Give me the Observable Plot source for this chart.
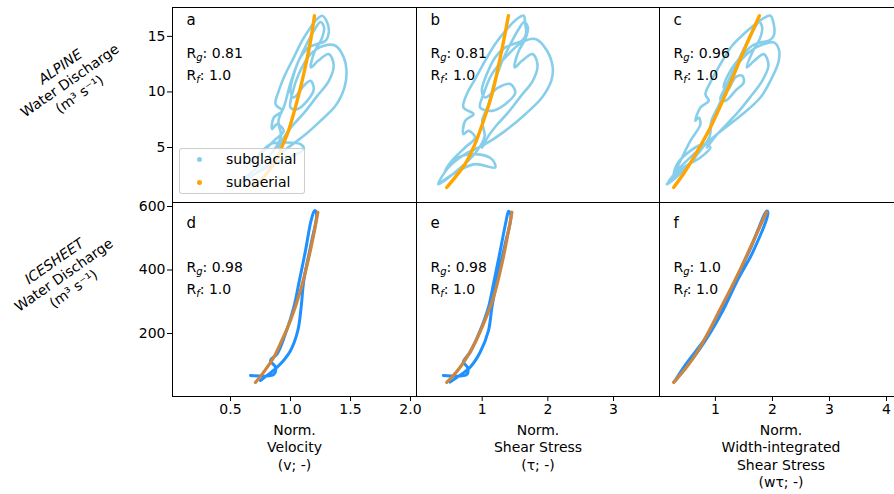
<!DOCTYPE html>
<html><head><meta charset="utf-8">
<script src="https://cdn.jsdelivr.net/npm/d3@7"></script>
<script src="https://cdn.jsdelivr.net/npm/@observablehq/plot@0.6"></script>
<style>
body{margin:0;background:#fff;}
#fig{position:relative;width:894px;height:494px;overflow:hidden;background:#fff;font-family:"DejaVu Sans",sans-serif;}
#fig svg{position:absolute;overflow:visible;}
#legend{position:absolute;box-sizing:border-box;border:1px solid rgba(200,200,200,0.9);border-radius:3px;background:rgba(255,255,255,0.8);font:14px "DejaVu Sans",sans-serif;color:#000;}
#legend .it{position:absolute;white-space:nowrap;line-height:16px;}
#legend .dot{position:absolute;width:5px;height:5px;border-radius:50%;}
</style></head><body><div id="fig"></div>
<script>
// ---------- data ----------
const panelLetters = ["a","b","c","d","e","f"];
const rgValues = ["0.81","0.81","0.96","0.98","0.98","1.0"];
const rfValues = ["1.0","1.0","1.0","1.0","1.0","1.0"];
const seriesNames = ["subglacial","subaerial"];
const rowLabels = ["ALPINE\nWater Discharge\n(m³ s⁻¹)", "ICESHEET\nWater Discharge\n(m³ s⁻¹)"];
const colLabels = ["Norm.\nVelocity\n(v; -)", "Norm.\nShear Stress\n(τ; -)", "Norm.\nWidth-integrated\nShear Stress\n(wτ; -)"];
const yTicksTop = [5, 10, 15];
const yTicksBottom = [200, 400, 600];
const xTicksCol = [[0.5, 1.0, 1.5, 2.0], [1, 2, 3], [1, 2, 3, 4]];

// ALPINE (top row)  [x, discharge]
const subglacialA = [[0.525,1.40],[0.75,2.90],[0.917,3.80],[1.111,4.85],[1.083,5.30],[0.944,5.45],[0.833,5.30],[0.667,3.50],[0.75,4.40],[0.861,5.60],[0.944,6.50],[0.889,7.10],[0.847,6.65],[0.861,7.70],[0.931,8.30],[0.875,8.90],[0.903,10.11],[0.958,11.61],[1.028,13.11],[1.097,14.61],[1.167,15.81],[1.222,16.56],[1.264,16.86],[1.306,16.26],[1.319,15.36],[1.292,14.61],[1.222,14.31],[1.153,14.01],[1.083,13.11],[1.028,11.61],[1.0,10.11],[1.028,9.50],[1.111,10.56],[1.167,11.01],[1.194,10.26],[1.139,9.20],[1.056,8.45],[1.0,8.60],[1.014,9.80],[1.069,11.61],[1.167,13.41],[1.278,14.16],[1.375,14.16],[1.444,13.11],[1.467,11.91],[1.45,10.41],[1.375,8.75],[1.25,7.40],[1.111,6.05],[0.944,4.70],[0.778,3.20],[0.611,2.00],[0.525,1.40],
  [0.70,3.0],[0.85,4.6],[0.92,6.0],[0.90,7.4],[0.95,8.8],[1.0,10.8],[1.06,12.6],[1.13,14.2],[1.20,15.6],[1.25,16.3],[1.28,15.8],[1.26,14.8],[1.20,13.6],[1.17,12.2],[1.23,12.8],[1.32,13.4],[1.36,12.4],[1.32,11.0],[1.22,9.6],[1.12,8.2],[1.02,7.0],[0.95,6.0],[0.90,5.0]];
const subaerialA = [[0.69,1.45],[0.75,2.0],[0.82,2.9],[0.88,3.9],[0.93,5.1],[0.98,6.4],[1.03,8.2],[1.07,9.8],[1.11,11.6],[1.15,13.6],[1.18,15.4],[1.20,16.85]];
const subglacialB = [[0.333,1.70],[0.638,2.90],[0.893,3.50],[1.198,3.20],[1.148,3.95],[0.893,4.40],[0.638,4.10],[0.435,2.90],[0.537,3.80],[0.740,5.00],[0.893,5.90],[0.791,6.50],[0.715,6.20],[0.740,7.40],[0.868,8.00],[0.715,8.60],[0.766,9.80],[0.893,11.16],[1.046,12.81],[1.198,14.31],[1.377,15.66],[1.529,16.56],[1.631,16.86],[1.656,16.11],[1.667,15.21],[1.606,14.61],[1.478,14.31],[1.351,14.01],[1.198,13.11],[1.071,11.61],[0.995,10.11],[1.046,9.50],[1.249,10.41],[1.427,10.71],[1.504,9.95],[1.351,8.90],[1.148,8.30],[0.969,8.60],[1.020,9.80],[1.148,11.61],[1.402,13.41],[1.606,14.46],[1.809,14.76],[1.987,13.71],[2.074,12.21],[2.053,11.01],[1.911,9.50],[1.656,8.00],[1.351,6.50],[1.046,5.30],[0.740,4.40],[0.486,3.20],[0.333,1.70],
  [0.634,3.0],[0.908,4.6],[1.037,6.0],[1.0,7.4],[1.092,8.8],[1.183,10.8],[1.293,12.6],[1.421,14.2],[1.55,15.6],[1.641,16.3],[1.696,15.8],[1.66,14.8],[1.55,13.6],[1.495,12.2],[1.605,12.8],[1.77,13.4],[1.843,12.4],[1.77,11.0],[1.586,9.6],[1.403,8.2],[1.22,7.0],[1.092,6.0],[1.0,5.0]];
const subaerialB = [[0.46,1.4],[0.60,2.4],[0.74,3.5],[0.89,5.3],[1.02,7.4],[1.15,9.8],[1.275,13.1],[1.34,15.0],[1.40,16.86]];
const subglacialC = [[0.152,1.70],[0.444,3.20],[0.737,4.10],[0.912,5.00],[0.795,5.30],[0.561,4.70],[0.327,3.50],[0.269,2.60],[0.386,3.80],[0.561,5.60],[0.737,7.10],[0.708,7.70],[0.649,7.40],[0.737,8.60],[0.883,9.20],[0.825,9.80],[0.912,10.86],[1.088,12.51],[1.292,14.16],[1.497,15.21],[1.702,16.11],[1.848,16.65],[1.965,16.86],[2.023,16.11],[2.023,15.06],[1.936,14.61],[1.789,14.46],[1.643,14.16],[1.439,13.11],[1.263,11.91],[1.146,10.41],[1.205,10.11],[1.351,11.31],[1.468,11.46],[1.497,10.86],[1.351,10.11],[1.175,9.20],[1.088,9.35],[1.175,10.41],[1.351,12.21],[1.585,13.56],[1.848,14.31],[2.023,14.46],[2.111,13.86],[2.111,12.81],[1.994,11.31],[1.789,9.50],[1.439,7.85],[1.029,6.20],[0.620,4.40],[0.327,2.90],[0.152,1.70],
  [0.45,3.0],[0.72,4.6],[0.90,6.0],[0.93,7.4],[1.06,8.8],[1.23,10.8],[1.38,12.6],[1.53,14.2],[1.67,15.6],[1.77,16.3],[1.82,15.8],[1.78,14.8],[1.65,13.6],[1.55,12.2],[1.68,12.8],[1.85,13.4],[1.93,12.4],[1.82,11.0],[1.62,9.6],[1.40,8.2],[1.18,7.0],[1.00,6.0],[0.85,5.0]];
const subaerialC = [[0.268,1.4],[0.45,2.7],[0.619,4.1],[0.912,6.8],[1.205,10.1],[1.497,13.7],[1.772,16.86]];

// ICESHEET (bottom row)
const subglacialD = [[0.667,68],[0.861,71],[0.875,94],[0.833,115],[0.889,136],[0.958,199],[1.028,283],[1.069,357],[1.125,461],[1.172,556],[1.2,587],[1.217,577],[1.172,483],[1.111,367],[1.089,283],[1.061,209],[1.0,146],[0.903,99],[0.806,68],[0.75,52]];
const subaerialD = [[0.708,46],[0.78,80],[0.861,125],[0.93,180],[1.0,241],[1.083,335],[1.153,440],[1.2,524],[1.228,582]];
const subglacialE = [[0.409,68],[0.766,71],[0.776,94],[0.715,110],[0.817,141],[0.969,209],[1.096,283],[1.173,357],[1.275,461],[1.366,556],[1.402,585],[1.438,572],[1.351,483],[1.224,367],[1.148,283],[1.096,209],[0.969,141],[0.817,94],[0.638,65],[0.511,47]];
const subaerialE = [[0.461,46],[0.62,82],[0.766,125],[0.90,175],[1.02,230],[1.173,314],[1.301,420],[1.402,524],[1.453,582]];
const subglacialF = [[0.30,52],[0.50,98],[0.72,150],[0.93,208],[1.12,268],[1.40,372],[1.66,458],[1.92,580],[1.90,586],[1.62,470],[1.36,372],[1.09,270],[0.90,205],[0.68,150],[0.45,95],[0.28,48]];
const subaerialF = [[0.268,46],[0.50,95],[0.679,141],[0.88,205],[1.088,278],[1.30,352],[1.496,425],[1.70,505],[1.895,582]];

const subglacialSeries = [subglacialA, subglacialB, subglacialC, subglacialD, subglacialE, subglacialF];
const subaerialSeries = [subaerialA, subaerialB, subaerialC, subaerialD, subaerialE, subaerialF];

// ---------- layout / style ----------
const rowColors = [["#87CEEB", "#FFA500"], ["#1E90FF", "#CD853F"]];
const xDomains = [[0.017, 2.05], [0.0, 3.7], [0.02, 4.28]];
const yDomains = [[0.05, 17.6], [1.6, 612.6]];
const cols = [{left: 172, w: 244}, {left: 416, w: 243}, {left: 659, w: 243}];
const rows = [{top: 7, h: 195, mb: 0, letterDy: 13, rgDy: 46, rfDy: 68},
              {top: 202, h: 194, mb: 98, letterDy: 21, rgDy: 65, rfDy: 87}];
const fig = document.getElementById("fig");
const FONT = '"DejaVu Sans", sans-serif';

for (let r = 0; r < 2; r++) {
  for (let c = 0; c < 3; c++) {
    const i = r * 3 + c;
    const row = rows[r], col = cols[c];
    const ml = c === 0 ? col.left : 0;
    const mt = r === 0 ? row.top : 0;
    const marks = [
      Plot.line(subglacialSeries[i], {x: d => d[0], y: d => d[1], stroke: rowColors[r][0], strokeWidth: r === 0 ? 2.6 : 3, curve: "catmull-rom", strokeLinejoin: "round", strokeLinecap: "round"}),
      Plot.line(subaerialSeries[i], {x: d => d[0], y: d => d[1], stroke: rowColors[r][1], strokeWidth: r === 0 ? 3.4 : 3.2, curve: "catmull-rom", strokeLinecap: "round"}),
      Plot.frame({stroke: "black", strokeWidth: 1}),
      Plot.text([panelLetters[i]], {text: d => d, frameAnchor: "top-left", dx: 14, dy: row.letterDy, lineAnchor: "middle", fontSize: 15, fill: "black"}),
      Plot.text([`R_g: ${rgValues[i]}`], {text: d => d, frameAnchor: "top-left", dx: 14, dy: row.rgDy, lineAnchor: "middle", fontSize: 14, fill: "black"}),
      Plot.text([`R_f: ${rfValues[i]}`], {text: d => d, frameAnchor: "top-left", dx: 14, dy: row.rfDy, lineAnchor: "middle", fontSize: 14, fill: "black"})
    ];
    if (r === 1) {
      marks.push(Plot.text([colLabels[c]], {text: d => d, frameAnchor: "bottom", dy: 26, lineAnchor: "top", lineHeight: 1.25, fontSize: 14, fill: "black"}));
    }
    if (c === 0) {
      marks.push(Plot.text([rowLabels[r]], {text: d => d, frameAnchor: "left", dx: r === 0 ? -103 : -109, dy: -25, rotate: -35, lineAnchor: "middle", textAnchor: "middle", lineHeight: 1.2, fontSize: 14, fill: "black"}));
    }
    const svg = Plot.plot({
      width: ml + col.w,
      height: mt + row.h + row.mb,
      marginLeft: ml, marginRight: 0, marginTop: mt, marginBottom: row.mb,
      style: {fontSize: "14px", fontFamily: FONT, background: "none", color: "black", overflow: "visible"},
      x: {domain: xDomains[c], ticks: xTicksCol[c], tickFormat: c === 0 ? d3.format(".1f") : d3.format("d"),
          tickSize: 5, tickPadding: 3, label: null, axis: r === 1 ? "bottom" : null},
      y: {domain: r === 0 ? yDomains[0] : yDomains[1], ticks: r === 0 ? yTicksTop : yTicksBottom,
          tickSize: 5, tickPadding: 2, label: null, axis: c === 0 ? "left" : null},
      marks
    });
    svg.style.left = (col.left - ml) + "px";
    svg.style.top = (row.top - mt) + "px";
    // subscripts and italic words
    d3.select(svg).selectAll("text").each(function () {
      const s = this.textContent;
      const m = s.match(/^R_(\w): (.*)$/);
      if (m && this.children.length === 0) {
        const t = d3.select(this);
        t.text(null);
        t.append("tspan").text("R");
        t.append("tspan").attr("font-style", "italic").attr("font-size", "10px").attr("dy", 3).text(m[1]);
        t.append("tspan").attr("dy", -3).text(": " + m[2]);
      }
      if ((s.startsWith("ALPINE") || s.startsWith("ICESHEET")) && this.children.length > 0) {
        d3.select(this.children[0]).attr("font-style", "italic");
      }
    });
    fig.appendChild(svg);
  }
}

// legend inside panel a
const legend = document.createElement("div");
legend.id = "legend";
legend.style.left = "179px"; legend.style.top = "148px";
legend.style.width = "126px"; legend.style.height = "46px";
seriesNames.forEach((name, k) => {
  const dot = document.createElement("div");
  dot.className = "dot";
  dot.style.background = rowColors[0][k];
  dot.style.left = "17px"; dot.style.top = (8 + k * 22.5) + "px";
  legend.appendChild(dot);
  const it = document.createElement("div");
  it.className = "it";
  it.textContent = name;
  it.style.left = "46px"; it.style.top = (2 + k * 22.5) + "px";
  legend.appendChild(it);
});
fig.appendChild(legend);
</script></body></html>
